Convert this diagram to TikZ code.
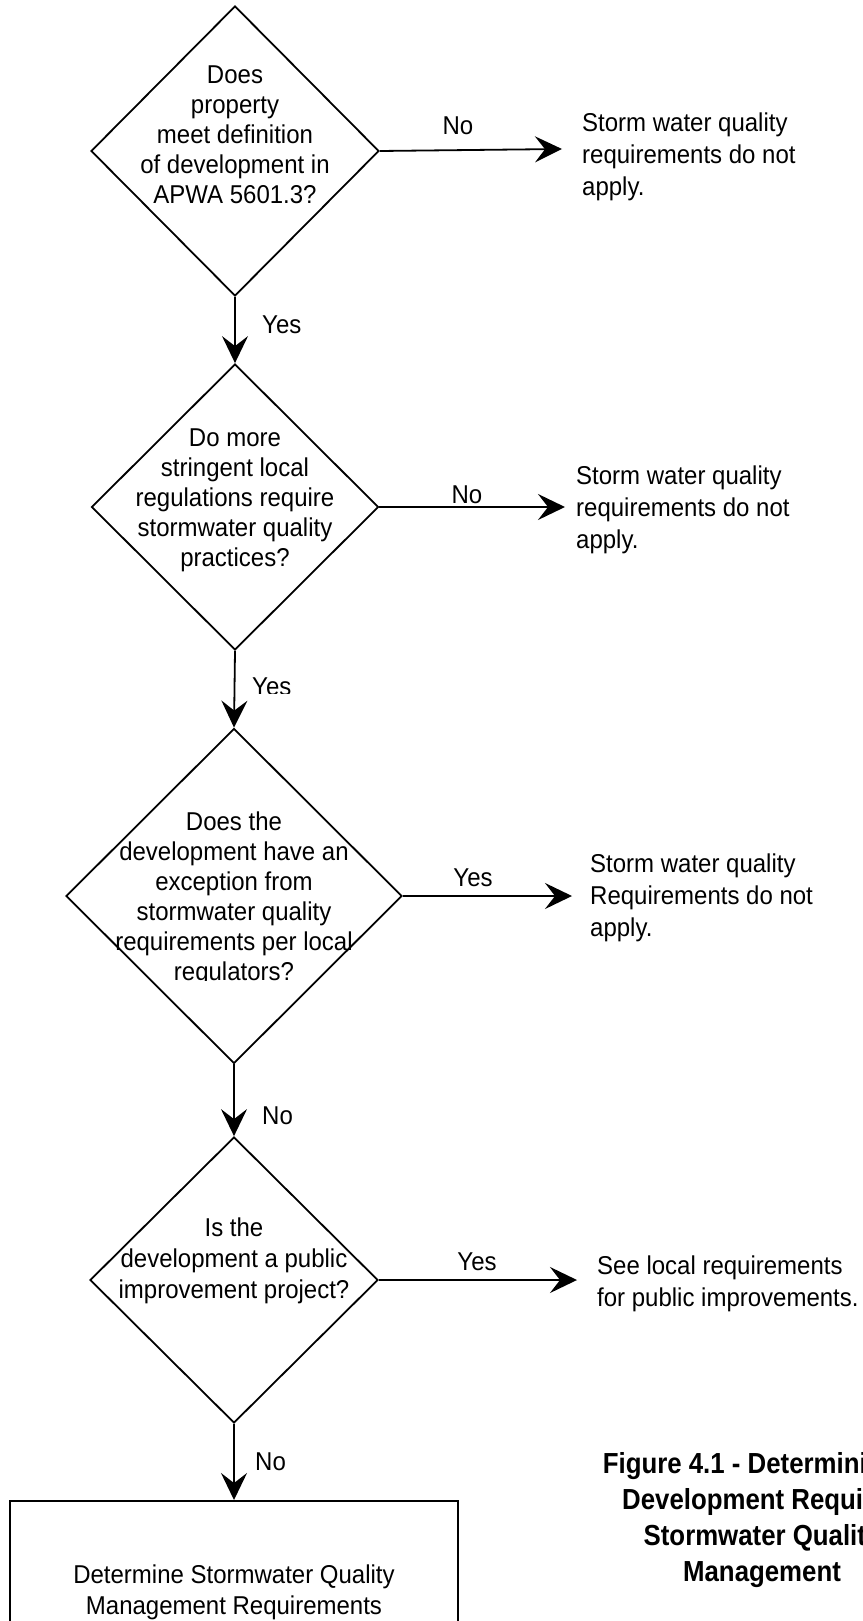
\documentclass[tikz,border=0pt]{standalone}
\usepackage{fontspec}
\setmainfont{Liberation Sans}[FakeStretch=0.93]
\newfontfamily\capfont{Liberation Sans}[FakeStretch=0.89]
\usetikzlibrary{shapes.geometric,arrows.meta}
\begin{document}
\begin{tikzpicture}[x=1pt,y=-1pt,
  dia/.style={draw, line width=1.8pt, diamond, inner sep=0pt},
  qtext/.style={font=\fontsize{25.8}{30}\selectfont, align=center, inner sep=0pt},
  rtext/.style={font=\fontsize{25.8}{32}\selectfont, align=left, inner sep=0pt, anchor=base west},
  lbl/.style={font=\fontsize{25.8}{30}\selectfont, inner sep=0pt},
  arr/.style={line width=1.8pt, -{Stealth[length=27pt,width=26pt,inset=10pt]}},
  boxst/.style={draw, line width=1.8pt, inner sep=0pt, anchor=north}]
\useasboundingbox (0,0) rectangle (862,1621);
\fill[white] (0,0) rectangle (862,1621);

% diamonds
\node[dia, minimum width=288pt, minimum height=290pt] (d1) at (235,151) {};
\node[dia, minimum width=287pt, minimum height=286pt] (d2) at (235,507) {};
\node[dia, minimum width=336pt, minimum height=335pt] (d3) at (234,896) {};
\node[dia, minimum width=288pt, minimum height=286pt] (d4) at (234,1280) {};
\node[boxst, minimum width=448pt, minimum height=200pt] (box) at (234,1500) {};

% diamond texts
\node[qtext] (q1) at ([yshift=16pt]d1.center) {Does\\property\\meet definition\\of development in\\APWA 5601.3?};
\node[qtext] (q2) at ([yshift=7pt]d2.center) {Do more\\stringent local\\regulations require\\stormwater quality\\practices?};
\begin{scope}
\clip (60,700) rectangle (420,980);
\node[qtext] (q3) at ([yshift=-3pt]d3.center) {Does the\\development have an\\exception from\\stormwater quality\\requirements per local\\regulators?};
\end{scope}
\node[qtext, font=\fontsize{25.8}{31}\selectfont] (q4) at ([yshift=19pt]d4.center) {Is the\\development a public\\improvement project?};
\node[qtext, font=\fontsize{25.8}{31}\selectfont] (bt) at (234,1592) {Determine Stormwater Quality\\Management Requirements};

% right texts (base = last line baseline)
\node[rtext] (r1) at (582,196) {Storm water quality\\requirements do not\\apply.};
\node[rtext] (r2) at (576,548) {Storm water quality\\requirements do not\\apply.};
\node[rtext] (r3) at (590,936) {Storm water quality\\Requirements do not\\apply.};
\node[rtext] (r4) at (597,1306) {See local requirements\\for public improvements.};

% arrow end points
\coordinate (e1) at (562,149);
\coordinate (e2) at (565,507);
\coordinate (e3) at (572,896);
\coordinate (e4) at (577,1280);

% connectors
\draw[arr] (d1.east) -- (e1);
\draw[arr] (d2.east) -- (e2);
\draw[arr] (d3.east) -- (e3);
\draw[arr] (d4.east) -- (e4);
\draw[arr] (d1.south) -- (d2.north);
\draw[arr] (d2.south) -- (d3.north);
\draw[arr] (d3.south) -- (d4.north);
\draw[arr] (d4.south) -- (box.north);

% labels
\node[lbl] (l1) at (458,126) {No};
\node[lbl, anchor=west] (l2) at (262,325) {Yes};
\node[lbl] (l3) at (467,495) {No};
\begin{scope}
\clip (240,660) rectangle (330,693);
\node[lbl, anchor=west] (l4) at (252,687) {Yes};
\end{scope}
\node[lbl] (l5) at (473,878) {Yes};
\node[lbl, anchor=west] (l6) at (262,1116) {No};
\node[lbl] (l7) at (477,1262) {Yes};
\node[lbl, anchor=west] (l8) at (255,1462) {No};

% caption
\node[font=\capfont\bfseries\fontsize{29}{36}\selectfont, align=center, inner sep=0pt] (cap) at (762,1520)
  {Figure 4.1 - Determining if\\Development Requires\\Stormwater Quality\\Management};
\end{tikzpicture}
\end{document}
